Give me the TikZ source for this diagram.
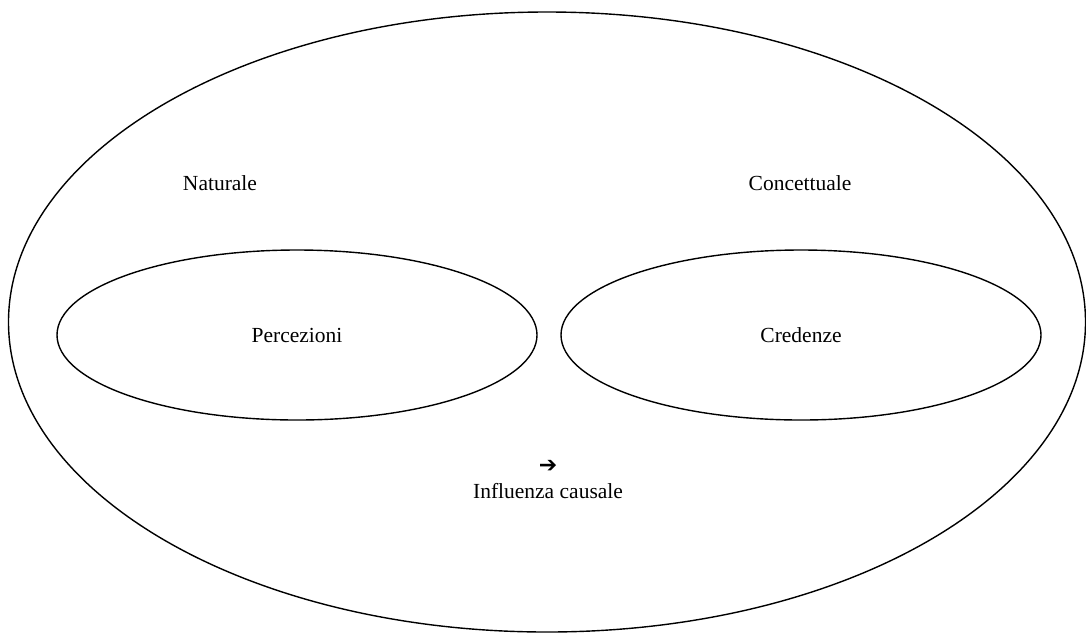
\documentclass[tikz,border=0pt]{standalone}
\usepackage{fontspec}
\setmainfont{Liberation Serif}
\newfontfamily\symfont{DejaVu Sans}
\usetikzlibrary{shapes.geometric}
\begin{document}
\begin{tikzpicture}[x=1pt,y=-1pt,
  oval/.style={draw=black, line width=1.4pt, ellipse, inner sep=0pt},
  lbl/.style={font=\fontsize{21.5}{24}\selectfont, inner sep=0pt}]
\useasboundingbox (0,0) rectangle (1086,633);
\node[oval, minimum width=1077pt, minimum height=620pt] (outer) at (547,322) {};
\node[oval, minimum width=480pt, minimum height=170pt, lbl] (perc) at (297,335) {Percezioni};
\node[oval, minimum width=480pt, minimum height=170pt, lbl] (cred) at (801,335) {Credenze};
\node[lbl] (nat) at (220,183) {Naturale};
\node[lbl] (conc) at (800,183) {Concettuale};
\node[inner sep=0pt, font=\symfont\bfseries\fontsize{22}{24}\selectfont] (arr) at (548,466) {➔};
\node[lbl] (infl) at (548,491) {Influenza causale};
\end{tikzpicture}
\end{document}
